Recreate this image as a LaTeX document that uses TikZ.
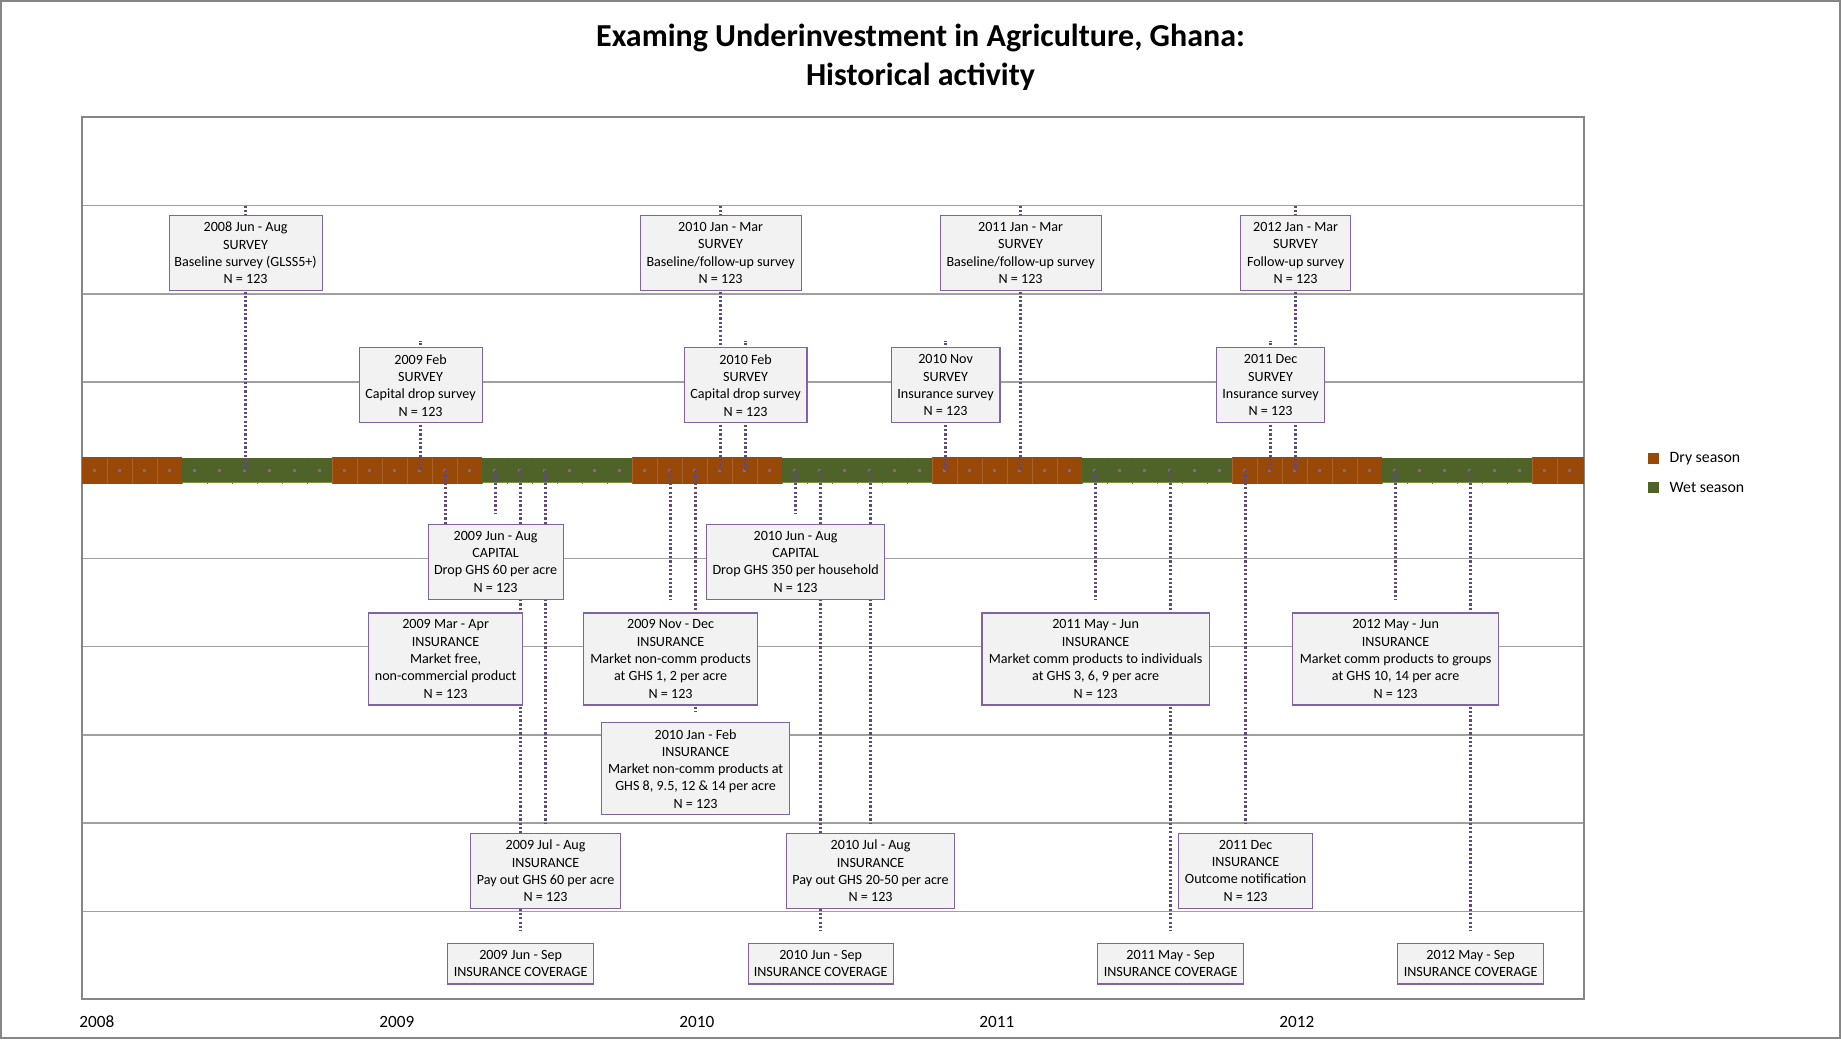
\documentclass[tikz,border=0pt]{standalone}
\usepackage{fontspec}
\setmainfont{Carlito}
\usetikzlibrary{positioning}

\definecolor{dry}{HTML}{984807}
\definecolor{wet}{HTML}{4F6228}
\definecolor{wetedge}{HTML}{77933C}
\definecolor{evpurple}{HTML}{604A7B}
\definecolor{boxpurple}{HTML}{8064A2}
\definecolor{boxfill}{HTML}{F2F2F2}
\definecolor{gridgray}{HTML}{A0A0A0}
\definecolor{framegray}{HTML}{868686}

\tikzset{
every node/.style={inner sep=0pt},
box/.style={draw=boxpurple, line width=0.6pt, fill=boxfill, align=center,
    font=\fontsize{7.05pt}{8.65pt}\selectfont, minimum height=37.4pt},
tall/.style={minimum height=46pt},
cover/.style={minimum height=20.2pt},
evline/.style={draw=evpurple, line width=1.15pt, dash pattern=on 1.1pt off 1.05pt},
gridline/.style={draw=gridgray, line width=0.7pt},
frame/.style={draw=framegray, line width=1pt},
title/.style={align=center, font=\fontsize{16pt}{19.5pt}\selectfont\bfseries},
yearlabel/.style={anchor=west, font=\fontsize{8.6pt}{10pt}\selectfont},
legkey/.style={minimum width=5.5pt, minimum height=5.5pt},
legtext/.style={font=\fontsize{7.9pt}{9pt}\selectfont},
}

\begin{document}
\begin{tikzpicture}[x=0.5pt,y=-0.5pt]

    \useasboundingbox (0,0) rectangle (1841,1039);
    \draw[framegray, line width=0.75pt] (1,1) rectangle (1840,1038);

    \node[title] (title) at (920.5,57) {Examing Underinvestment in Agriculture, Ghana:\\Historical activity};

    \foreach \i in {1,2,3,5,6,7,8,9}
        \draw[gridline] (82,{117.4+88.2*\i}) -- (1584,{117.4+88.2*\i});
    \draw[frame] (82,117.4) rectangle (1584,999.4);

    \foreach \a/\b in {82/182,332/482,632/782,932/1082,1232/1382,1532/1584}
        \fill[dry] (\a,457) rectangle (\b,484);
    \foreach \k in {1,...,59}
        \draw[dry!85!white, line width=0.3pt] ({82+25*\k},457.5) -- ++(0,26);
    \foreach \a/\b in {182/332,482/632,782/932,1082/1232,1382/1532} {
        \fill[wet] (\a,457.5) rectangle (\b,482.5);
        \draw[wetedge, line width=0.6pt] (\a,482.5) -- (\b,482.5);
    }
    \foreach \k in {0,...,59}
        \fill[boxpurple] ({92.6+25*\k},468.5) rectangle ++(3,3);

    \foreach \n/\x/\t in {s08/245.6/205.6, s09/420.6/340.6, i09a/445.6/600.3, c09/495.6/513.3,
        v09/520.6/930.5, o09/545.6/823, i09b/670.6/600.3, i10/695.6/712.3, s10a/720.6/205.6,
        s10b/745.6/340.6, c10/795.6/513.3, v10/820.6/930.5, o10/870.6/823, s10c/945.6/340.6,
        s11a/1020.6/205.6, i11/1095.6/600.3, v11/1170.6/930.5, n11/1245.6/823,
        s11b/1270.6/340.6, s12/1295.6/205.6, i12/1395.6/600.3, v12/1470.6/930.5} {
        \coordinate (p\n) at (\x,470);
        \coordinate (t\n) at (\x,\t);
        \draw[evline] (p\n) -- (t\n);
    }

    \node[box, minimum width=76.5pt] (s08) at (245.6,253) {2008 Jun - Aug\\SURVEY\\Baseline survey (GLSS5+)\\N = 123};
    \node[box, minimum width=80.5pt] (s10a) at (720.6,253) {2010 Jan - Mar\\SURVEY\\Baseline/follow-up survey\\N = 123};
    \node[box, minimum width=80.5pt] (s11a) at (1020.6,253) {2011 Jan - Mar\\SURVEY\\Baseline/follow-up survey\\N = 123};
    \node[box, minimum width=54.8pt] (s12) at (1295.6,253) {2012 Jan - Mar\\SURVEY\\Follow-up survey\\N = 123};

    \node[box, minimum width=61.5pt] (s09) at (420.6,385.2) {2009 Feb\\SURVEY\\Capital drop survey\\N = 123};
    \node[box, minimum width=61.3pt] (s10b) at (745.6,385.2) {2010 Feb\\SURVEY\\Capital drop survey\\N = 123};
    \node[box, minimum width=54.4pt] (s10c) at (945.6,385.2) {2010 Nov\\SURVEY\\Insurance survey\\N = 123};
    \node[box, minimum width=54.2pt] (s11b) at (1270.6,385.2) {2011 Dec\\SURVEY\\Insurance survey\\N = 123};

    \node[box, minimum width=67.5pt] (c09) at (495.6,561.7) {2009 Jun - Aug\\CAPITAL\\Drop GHS 60 per acre\\N = 123};
    \node[box, minimum width=89pt] (c10) at (795.6,561.7) {2010 Jun - Aug\\CAPITAL\\Drop GHS 350 per household\\N = 123};

    \node[box, tall, minimum width=77pt] (i09a) at (445.6,659) {2009 Mar - Apr\\INSURANCE\\Market free,\\non-commercial product\\N = 123};
    \node[box, tall, minimum width=87pt] (i09b) at (670.6,659) {2009 Nov - Dec\\INSURANCE\\Market non-comm products\\at GHS 1, 2 per acre\\N = 123};
    \node[box, tall, minimum width=113.6pt] (i11) at (1095.6,659) {2011 May - Jun\\INSURANCE\\Market comm products to individuals\\at GHS 3, 6, 9 per acre\\N = 123};
    \node[box, tall, minimum width=103pt] (i12) at (1395.6,659) {2012 May - Jun\\INSURANCE\\Market comm products to groups\\at GHS 10, 14 per acre\\N = 123};
    \node[box, tall, minimum width=94pt] (i10) at (695.6,768.8) {2010 Jan - Feb\\INSURANCE\\Market non-comm products at\\GHS 8, 9.5, 12 \& 14 per acre\\N = 123};

    \node[box, minimum width=75.2pt] (o09) at (545.6,870.8) {2009 Jul - Aug\\INSURANCE\\Pay out GHS 60 per acre\\N = 123};
    \node[box, minimum width=84pt] (o10) at (870.6,870.8) {2010 Jul - Aug\\INSURANCE\\Pay out GHS 20-50 per acre\\N = 123};
    \node[box, minimum width=67.2pt] (n11) at (1245.6,870.8) {2011 Dec\\INSURANCE\\Outcome notification\\N = 123};

    \node[box, cover, minimum width=73pt] (v09) at (520.6,963.8) {2009 Jun - Sep\\INSURANCE COVERAGE};
    \node[box, cover, minimum width=72.5pt] (v10) at (820.6,963.8) {2010 Jun - Sep\\INSURANCE COVERAGE};
    \node[box, cover, minimum width=73pt] (v11) at (1170.6,963.8) {2011 May - Sep\\INSURANCE COVERAGE};
    \node[box, cover, minimum width=73pt] (v12) at (1470.6,963.8) {2012 May - Sep\\INSURANCE COVERAGE};

    \node[yearlabel] (y08) at (79,1022) {2008};
    \node[yearlabel] (y09) at (379,1022) {2009};
    \node[yearlabel] (y10) at (679,1022) {2010};
    \node[yearlabel] (y11) at (979,1022) {2011};
    \node[yearlabel] (y12) at (1279,1022) {2012};

    \node[legkey, fill=dry] (kdry) at (1653.8,458.7) {};
    \node[legtext, right=4.8pt of kdry] (ldry) {Dry season};
    \node[legkey, fill=wet] (kwet) at (1653.8,487.2) {};
    \node[legtext, right=4.8pt of kwet] (lwet) {Wet season};

\end{tikzpicture}
\end{document}
